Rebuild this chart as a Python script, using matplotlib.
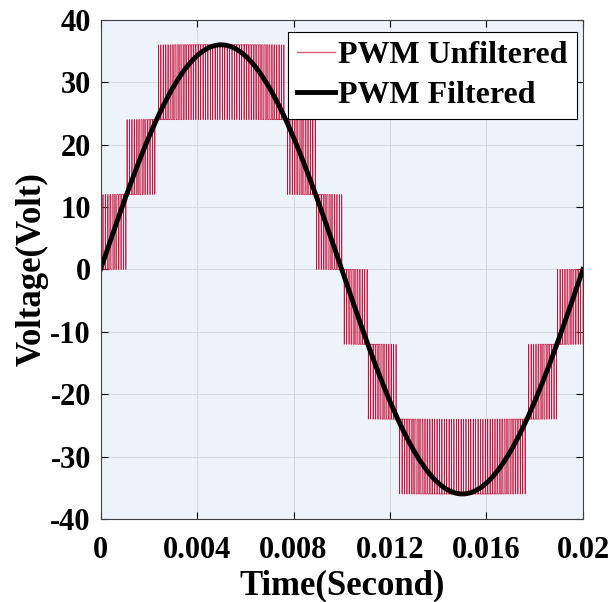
import numpy as np
import matplotlib
matplotlib.use("Agg")
import matplotlib.pyplot as plt

# ---- data ----
amplitude = 36.0          # V, peak of filtered sine
fundamental = 50.0        # Hz (one period in 0.02 s)
step_levels = [12.0, 24.0, 36.0]   # DC levels of the multilevel PWM
carrier_freq = 10000.0    # Hz, estimated from pulse spacing
t_end = 0.02
x_ticks = [0, 0.004, 0.008, 0.012, 0.016, 0.02]
x_ticklabels = ["0", "0.004", "0.008", "0.012", "0.016", "0.02"]
y_ticks = [-40, -30, -20, -10, 0, 10, 20, 30, 40]
y_ticklabels = ["-40", "-30", "-20", "-10", "0", "10", "20", "30", "40"]

# ---- build waveforms ----
t = np.linspace(0, t_end, 400001)
ref = amplitude * np.sin(2 * np.pi * fundamental * t)
step = step_levels[0]
phase = (t * carrier_freq) % 1.0
carrier = 1 - 2 * np.abs(phase - 0.5)    # triangular 0..1
mag = np.abs(ref)
k = np.minimum(np.floor(mag / step), len(step_levels) - 1)
frac = mag / step - k
pwm_mag = (k + (frac > carrier)) * step
pwm = np.sign(ref) * pwm_mag

# ---- plot ----
plt.rcParams['font.family'] = ['Liberation Serif', 'DejaVu Serif']
plt.rcParams['font.weight'] = 'bold'
plt.rcParams['axes.unicode_minus'] = False
fig = plt.figure(figsize=(6.13, 6.02), dpi=100)
ax = fig.add_axes([0.164, 0.138, 0.787, 0.829])
ax.set_facecolor('#eef3fa')
ax.plot(t, pwm, color='#c8123c', lw=0.5, label='PWM Unfiltered')
ax.plot(t, ref, color='black', lw=3.5, label='PWM Filtered')

ax.set_xlim(0, t_end)
ax.set_ylim(-40, 40)
ax.set_xticks(x_ticks)
ax.set_xticklabels(x_ticklabels)
ax.set_yticks(y_ticks)
ax.set_yticklabels(y_ticklabels)
ax.tick_params(direction='in', top=True, right=True, labelsize=22, length=5, width=0.8)
ax.tick_params(axis='x', pad=12)
ax.tick_params(axis='y', pad=7)
for lab in ax.get_xticklabels() + ax.get_yticklabels():
    lab.set_fontweight('bold')
ax.grid(True, color='#d6dae0', lw=0.8)
ax.set_axisbelow(True)
for s in ax.spines.values():
    s.set_color('#404040')
    s.set_linewidth(0.8)
ax.set_xlabel('Time(Second)', fontsize=25, fontweight='bold', va='baseline')
ax.xaxis.set_label_coords(0.5, -0.152)
ax.set_ylabel('Voltage(Volt)', fontsize=25, fontweight='bold', labelpad=1)
leg = ax.legend(loc='upper right', bbox_to_anchor=(0.9875, 0.976), borderaxespad=0,
                fontsize=23, frameon=True, fancybox=False,
                edgecolor='black', framealpha=1,
                handlelength=1.2, handletextpad=0.1, borderpad=0.28, labelspacing=0.32)
leg.get_frame().set_linewidth(0.8)
leg.get_lines()[0].set_linewidth(1.0)
leg.get_lines()[0].set_color('#e0607a')
for txt in leg.get_texts():
    txt.set_fontweight('bold')
fig.savefig('out.png', dpi=100)
